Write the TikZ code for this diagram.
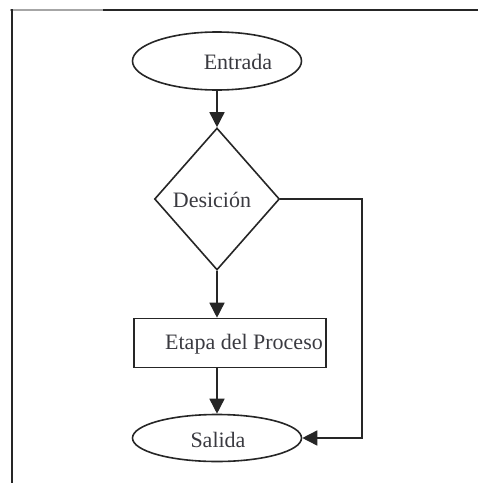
\documentclass[tikz,border=0pt]{standalone}
\usepackage{fontspec}
\setmainfont{Liberation Serif}
\usetikzlibrary{shapes.geometric,arrows.meta}
\definecolor{ink}{HTML}{262626}
\definecolor{txt}{HTML}{3A3A40}
\begin{document}
\begin{tikzpicture}[x=1pt,y=-1pt,
  shapeline/.style={draw=ink,line width=1.6pt},
  label txt/.style={font=\fontsize{22}{24}\selectfont,text=txt,inner sep=0pt},
  flow/.style={draw=ink,line width=1.6pt,-{Triangle[length=15pt,width=15pt]}}]
\useasboundingbox (0,0) rectangle (478,483);
% frame
\draw[gray!70,line width=2pt] (10,9.5) -- (103,9.5);
\draw[ink,line width=2pt] (103,9.5) -- (478,9.5);
\draw[ink,line width=2pt] (11.5,9) -- (11.5,483);
% shapes
\node[shapeline,ellipse,minimum width=169pt,minimum height=58pt,inner sep=0pt] (entrada) at (217,61) {};
\node[label txt] (entradat) at (238,62) {Entrada};
\node[shapeline,diamond,minimum width=125pt,minimum height=142pt,inner sep=0pt] (decision) at (217,199) {};
\node[label txt] (decisiont) at (212,200) {Desición};
\node[shapeline,rectangle,minimum width=192pt,minimum height=49pt,inner sep=0pt] (etapa) at (230,343) {};
\node[label txt,anchor=east] (etapat) at (323,344) {Etapa del Proceso};
\node[shapeline,ellipse,minimum width=169pt,minimum height=47pt,inner sep=0pt] (salida) at (217,438) {};
\node[label txt] (salidat) at (218,440) {Salida};
% connectors
\draw[flow] (entrada.south) -- (decision.north);
\draw[flow] (decision.south) -- (decision.south |- etapa.north);
\draw[flow] (salida.north |- etapa.south) -- (salida.north);
\coordinate (bend) at (362,199);
\draw[flow] (decision.east) -- (bend) |- (salida.east);
\end{tikzpicture}
\end{document}
